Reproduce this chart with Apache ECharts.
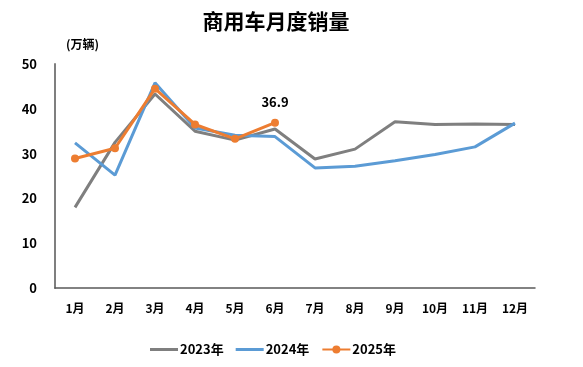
<!DOCTYPE html>
<html><head><meta charset="utf-8">
<script src="https://cdn.jsdelivr.net/npm/echarts@6/dist/echarts.min.js"></script>
<style>html,body{margin:0;padding:0;background:#fff}#c{width:583px;height:367px}</style>
</head><body><div id="c"></div>
<script>
const categories = ['1月','2月','3月','4月','5月','6月','7月','8月','9月','10月','11月','12月'];
const s2023 = [18.0, 32.5, 43.3, 35.0, 33.0, 35.5, 28.8, 31.0, 37.1, 36.5, 36.6, 36.5];
const s2024 = [32.4, 25.2, 45.8, 35.7, 34.1, 33.8, 26.8, 27.2, 28.4, 29.8, 31.5, 36.8];
const s2025 = [28.9, 31.2, 44.5, 36.5, 33.3, 36.9];
const font = '"Noto Sans CJK SC", sans-serif';
const lineIcon = 'path://M0,0 L28,0 L28,3 L0,3 Z';
const chart = echarts.init(document.getElementById('c'));
chart.setOption({
  animation: false,
  textStyle: {fontFamily: font},
  title: [{text: '商用车月度销量', left: 271, top: 6, textAlign: 'center',
    textStyle: {fontSize: 21, fontWeight: 'bold', color: '#000', fontFamily: font}},
    {text: '(万辆)', left: 61, top: 33, textStyle: {fontSize: 12, fontWeight: 'bold', color: '#000', fontFamily: font}}],
  legend: {bottom: 6, left: 145, itemWidth: 28, itemHeight: 10, itemGap: 12,
    textStyle: {fontSize: 13, fontWeight: 'bold', color: '#000', fontFamily: font, padding: [0,0,0,-3]},
    data: [{name: '2023年', icon: lineIcon}, {name: '2024年', icon: lineIcon}, '2025年']},
  grid: {left: 55, right: 48, top: 64, bottom: 79, containLabel: false},
  xAxis: {type: 'category', data: categories, boundaryGap: true,
    axisLine: {lineStyle: {color: '#595959', width: 1.5}}, axisTick: {show: false},
    axisLabel: {fontSize: 12, fontWeight: 'bold', color: '#000', margin: 14, fontFamily: font}},
  yAxis: {type: 'value', min: 0, max: 50, interval: 10,
    axisLine: {show: true, lineStyle: {color: '#7f7f7f', width: 2}}, axisTick: {show: false},
    splitLine: {show: false},
    axisLabel: {fontSize: 13, fontWeight: 'bold', color: '#000', margin: 18, fontFamily: font}},
  series: [
    {name: '2023年', type: 'line', data: s2023, showSymbol: false, symbol: 'none',
      lineStyle: {color: '#7f7f7f', width: 3}, itemStyle: {color: '#7f7f7f'}},
    {name: '2024年', type: 'line', data: s2024, showSymbol: false, symbol: 'none',
      lineStyle: {color: '#5b9bd5', width: 3}, itemStyle: {color: '#5b9bd5'}},
    {name: '2025年', type: 'line', data: s2025, symbol: 'circle', symbolSize: 8,
      lineStyle: {color: '#ed7d31', width: 3}, itemStyle: {color: '#ed7d31'},
      label: {show: true, position: 'top', distance: 10, fontSize: 13, fontWeight: 'bold', color: '#000', fontFamily: font,
        formatter: p => p.dataIndex === 5 ? p.value.toFixed(1) : ''}}
  ]
});
</script></body></html>
